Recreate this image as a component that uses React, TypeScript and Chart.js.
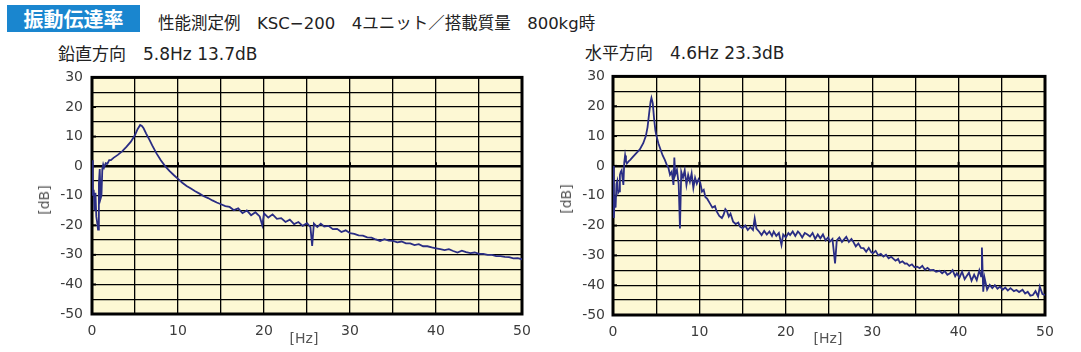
import React, { useEffect, useRef } from "react";
import { Chart, registerables } from "chart.js";

Chart.register(...registerables);

// ---- data: vertical direction (鉛直方向) ----
const vertHz = [
  0, 0.1, 0.2, 0.3, 0.4, 0.5, 0.6, 0.7, 0.8, 0.9,
  1.0, 1.1, 1.2, 1.3, 1.4, 1.6, 1.8, 2.0, 2.2, 2.5,
  3.0, 3.5, 4.0, 4.5, 5.0, 5.3, 5.6, 5.8, 6.0, 6.3,
  6.7, 7.0, 7.5, 8.0, 8.5, 9.0, 9.5, 10, 10.5, 11,
  11.5, 12, 12.5, 13, 13.5, 14, 14.5, 15, 15.5, 16,
  16.5, 17, 17.5, 18, 18.5, 19, 19.5, 19.8, 20, 20.5,
  21, 21.5, 22, 22.5, 23, 23.5, 24, 24.5, 25, 25.4,
  25.6, 25.8, 26.2, 26.6, 27, 27.5, 28, 28.5, 29, 29.5,
  30, 30.5, 31, 31.5, 32, 32.5, 33, 33.5, 34, 34.5,
  35, 35.5, 36, 36.5, 37, 37.5, 38, 38.5, 39, 39.5,
  40, 40.5, 41, 41.5, 42, 42.5, 43, 43.5, 44, 44.5,
  45, 45.5, 46, 46.5, 47, 47.5, 48, 48.5, 49, 49.5, 50,
];
const vertDb = [
  2, -10, -8, -15, -9, -17, -19, -21.5, -6, -1,
  -11, -10, -1, 0.5, -0.5, 1, 0.8, 2, 2, 2.8,
  3.8, 5, 6.5, 8.2, 10.5, 12.5, 13.9, 13.6, 12.8, 11,
  8.8, 7, 4.3, 2, 0, -1.6, -3, -4.3, -5.6, -6.7,
  -7.6, -8.5, -9.3, -10.2, -10.8, -11.6, -12.3, -12.9, -13.5, -13.8,
  -14.9, -14.3, -15.9, -15.0, -16.6, -15.6, -17.0, -20, -16.0, -17.4,
  -16.3, -17.8, -17.6, -18.9, -18.1, -19.6, -18.9, -20.2, -19.3, -20.6,
  -27, -19.4, -20.6, -19.5, -20.4, -20.2, -21.3, -21.2, -22.3, -21.7,
  -22.7, -22.9, -23.4, -23.5, -24.1, -24.2, -24.8, -25.3, -24.7, -25.2,
  -25.3, -25.8, -25.5, -26.1, -26.1, -26.7, -26.4, -27.1, -27.1, -27.5,
  -27.8, -28.1, -28.4, -28.1, -28.7, -29.2, -28.6, -29.1, -29.4, -29.2,
  -29.7, -29.7, -30.0, -30.0, -30.4, -30.4, -30.7, -30.8, -31.2, -31.1, -31.5,
];

// ---- data: horizontal direction (水平方向) ----
const horzHz = [
  0, 0.1, 0.2, 0.3, 0.4, 0.5, 0.6, 0.7, 0.8, 0.9,
  1.0, 1.1, 1.2, 1.3, 1.4, 1.5, 1.6, 1.8, 2.0, 2.3,
  2.7, 3.1, 3.5, 3.8, 4.0, 4.2, 4.35, 4.45, 4.6, 4.75,
  4.9, 5.0, 5.25, 5.5, 5.75, 6.0, 6.2, 6.4, 6.6, 6.8,
  7.0, 7.1, 7.2, 7.4, 7.6, 7.75, 7.9, 8.1, 8.3, 8.5,
  8.7, 8.9, 9.1, 9.3, 9.5, 9.7, 9.9, 10.1, 10.3, 10.5,
  10.7, 10.9, 11.2, 11.5, 11.8, 12.0, 12.3, 12.6, 12.8, 13.0,
  13.2, 13.4, 13.6, 13.9, 14.2, 14.5, 14.7, 15.0, 15.3, 15.6,
  15.9, 16.2, 16.4, 16.6, 16.9, 17.2, 17.5, 17.8, 18.1, 18.4,
  18.6, 18.9, 19.2, 19.5, 19.7, 20.0, 20.3, 20.5, 20.8, 21.1,
  21.4, 21.6, 21.9, 22.2, 22.5, 22.8, 23.1, 23.4, 23.7, 24.0,
  24.3, 24.6, 24.9, 25.1, 25.4, 25.7, 25.9, 26.2, 26.5, 26.7,
  27.0, 27.3, 27.6, 27.8, 28.1, 28.4, 28.7, 29.0, 29.3, 29.6,
  29.9, 30.1, 30.4, 30.7, 31.0, 31.3, 31.6, 31.9, 32.2, 32.4,
  32.7, 33.0, 33.2, 33.5, 33.8, 34.0, 34.3, 34.6, 34.9, 35.2,
  35.5, 35.8, 36.1, 36.4, 36.7, 37.1, 37.4, 37.8, 38.1, 38.4,
  38.7, 39.0, 39.3, 39.6, 39.8, 40.1, 40.4, 40.7, 40.9, 41.2,
  41.5, 41.8, 42.1, 42.4, 42.6, 42.7, 42.85, 43.0, 43.3, 43.6,
  43.9, 44.2, 44.5, 44.8, 45.1, 45.4, 45.7, 46.0, 46.4, 46.7,
  47.0, 47.4, 47.7, 48.0, 48.3, 48.6, 48.9, 49.2, 49.4, 49.7, 50.0,
];
const horzDb = [
  0, -17.5, -10, -14, -6, -5, -9, -8.5, -3, -2,
  -1.5, -4, -6.4, 1, 3.5, 1.5, 0.8, 1.5, 2, 3,
  4.3, 5.5, 7.6, 10, 13, 18, 21.5, 22.8, 21, 16,
  12, 10.4, 7.6, 5.5, 3.5, 2, 0.5, -0.5, -3, -2,
  -6.4, 2.8, -3, -1.3, -6, -21, -2, -4, -1.5, -6.4,
  -3, -5.3, -2.5, -7.4, -4, -6, -4.5, -5.7, -8.6, -8,
  -10.5, -11, -12.5, -14, -13.5, -15.3, -16.8, -17.5, -16.4, -14.5,
  -15.3, -17, -16, -18.7, -19.5, -19, -20.4, -20.9, -20, -21.5,
  -20.5, -21.5, -17.6, -21, -22, -23.2, -21.8, -23, -22, -23.5,
  -22, -23.5, -22.5, -26.5, -23, -24, -22.5, -23.2, -22, -23.5,
  -22, -22.6, -24, -22.5, -23, -23.7, -22.5, -24.5, -23, -24.3,
  -23, -25, -24, -25.4, -24.5, -32.7, -25, -24, -25.5, -24.8,
  -23.8, -25.5, -24.5, -25.4, -27, -26, -27.5, -27.6, -28.8, -27.5,
  -29, -29.3, -28.5, -30, -29.5, -30.4, -29.8, -31, -30.5, -31,
  -31.8, -31.2, -32.5, -32, -32.8, -32.7, -33.5, -33, -34, -33.8,
  -34.3, -33.5, -34.8, -34.2, -35, -34.9, -35.5, -35.2, -36, -35.3,
  -36.5, -36, -35, -37, -36, -37.5, -35.5, -38, -37.1, -35.8,
  -38.5, -36.5, -38.3, -35, -37, -27.4, -42.2, -37.5, -41.5, -39.9,
  -41, -40, -41.2, -40.5, -41.5, -40.8, -41.8, -41, -42, -41.6,
  -42.3, -41.5, -42.8, -42.2, -43.5, -43.3, -42, -43.8, -40.5, -43, -43.3,
];

// axis ranges / tick labels
const xMin = 0, xMax = 50, xGridStep = 5, xLabelStep = 10;
const yMin = -50, yMax = 30, yGridStep = 5, yLabelStep = 10;

const PLOT_BG = "#fdf8d4";
const LINE_COLOR = "#2a2d84";
const TICK_FONT = { family: "'DejaVu Sans', sans-serif", size: 14 };
const TICK_COLOR = "#3c3c3c";

const framePlugin = {
  id: "frame",
  beforeDraw(chart: any) {
    const { ctx, chartArea } = chart;
    const { left, top, right, bottom } = chartArea;
    ctx.save();
    ctx.fillStyle = PLOT_BG;
    ctx.fillRect(left, top, right - left, bottom - top);
    ctx.restore();
  },
  beforeDatasetsDraw(chart: any) {
    const { ctx, chartArea, scales } = chart;
    const { left, top, right, bottom } = chartArea;
    const xs = scales.x, ys = scales.y;
    ctx.save();
    ctx.strokeStyle = "#000";
    ctx.lineWidth = 2;
    for (let v = yMin + yLabelStep; v < yMax; v += yLabelStep) {
      const py = ys.getPixelForValue(v);
      ctx.beginPath();
      ctx.moveTo(left, py);
      ctx.lineTo(left + 4, py);
      ctx.stroke();
    }
    const zy = ys.getPixelForValue(0);
    for (let v = xMin + xLabelStep; v < xMax; v += xLabelStep) {
      const px = xs.getPixelForValue(v);
      ctx.beginPath();
      ctx.moveTo(px, zy);
      ctx.lineTo(px, zy - 4);
      ctx.stroke();
    }
    ctx.lineWidth = 3;
    ctx.strokeRect(left, top, right - left, bottom - top);
    ctx.restore();
  },
};

function buildChart(
  canvas: HTMLCanvasElement,
  hz: number[],
  db: number[],
  yWidth: number,
  xHeight: number,
  padRight: number,
  yPad: number
) {
  const points = hz.map((f, i) => ({ x: f, y: db[i] }));
  return new Chart(canvas, {
    type: "line",
    data: {
      datasets: [
        {
          data: points,
          borderColor: LINE_COLOR,
          borderWidth: 1.8,
          pointRadius: 0,
          tension: 0,
          fill: false,
        },
      ],
    },
    options: {
      responsive: false,
      animation: false,
      devicePixelRatio: 1,
      layout: { padding: { top: 0, right: padRight, left: 0, bottom: 0 } },
      plugins: { legend: { display: false }, tooltip: { enabled: false } },
      scales: {
        x: {
          type: "linear",
          min: xMin,
          max: xMax,
          afterFit: (s: any) => {
            s.height = xHeight;
          },
          border: { display: false },
          grid: { color: "#000", lineWidth: 1.3, drawTicks: false },
          ticks: {
            stepSize: xGridStep,
            autoSkip: false,
            maxRotation: 0,
            padding: 9,
            font: TICK_FONT,
            color: TICK_COLOR,
            callback: (v: any) => (Number(v) % xLabelStep === 0 ? String(v) : ""),
          },
        },
        y: {
          type: "linear",
          min: yMin,
          max: yMax,
          afterFit: (s: any) => {
            s.width = yWidth;
          },
          border: { display: false },
          grid: {
            color: "#000",
            lineWidth: (c: any) => (c.tick && c.tick.value === 0 ? 2.6 : 1.3),
            drawTicks: false,
          },
          ticks: {
            stepSize: yGridStep,
            autoSkip: false,
            padding: yPad,
            font: TICK_FONT,
            color: TICK_COLOR,
            callback: (v: any) => (Number(v) % yLabelStep === 0 ? String(v) : ""),
          },
        },
      },
    },
    plugins: [framePlugin],
  } as any);
}

const txtFont = "'DejaVu Sans', 'Noto Sans CJK JP', sans-serif";

function Label(props: { left: number; top: number; size: number; text: string }) {
  return (
    <div
      style={{
        position: "absolute",
        left: props.left,
        top: props.top,
        fontFamily: txtFont,
        fontSize: props.size,
        lineHeight: `${props.size}px`,
        whiteSpace: "pre",
        color: "#222",
      }}
    >
      {props.text}
    </div>
  );
}

function UnitLabel(props: { left: number; top: number; text: string; rotate?: boolean }) {
  return (
    <div
      style={{
        position: "absolute",
        left: props.left,
        top: props.top,
        fontFamily: "'DejaVu Sans', sans-serif",
        fontSize: 14,
        lineHeight: "14px",
        color: "#555",
        whiteSpace: "pre",
        transform: props.rotate ? "translate(-50%, -50%) rotate(-90deg)" : "translate(-50%, -50%)",
      }}
    >
      {props.text}
    </div>
  );
}

export default function App() {
  const leftRef = useRef<HTMLCanvasElement>(null);
  const rightRef = useRef<HTMLCanvasElement>(null);

  useEffect(() => {
    const c1 = buildChart(leftRef.current!, vertHz, vertDb, 92, 38, 18, 9);
    const c2 = buildChart(rightRef.current!, horzHz, horzDb, 73, 37, 36, 8);
    return () => {
      c1.destroy();
      c2.destroy();
    };
  }, []);

  return (
    <div
      style={{
        position: "absolute",
        left: 0,
        top: 0,
        width: 1081,
        height: 352,
        background: "#fff",
        overflow: "hidden",
      }}
    >
      <div
        style={{
          position: "absolute",
          left: 7,
          top: 5,
          width: 133,
          height: 27,
          background: "#1a86cf",
          color: "#fff",
          fontFamily: "'Noto Sans CJK JP', sans-serif",
          fontSize: 20,
          fontWeight: "bold",
          lineHeight: "27px",
          textAlign: "center",
        }}
      >
        振動伝達率
      </div>
      <Label left={158} top={16} size={16.5} text={"性能測定例　KSC−200　4ユニット／搭載質量　800kg時"} />
      <Label left={58} top={46} size={17} text={"鉛直方向　5.8Hz 13.7dB"} />
      <Label left={585} top={45} size={17} text={"水平方向　4.6Hz 23.3dB"} />

      <canvas
        ref={leftRef}
        width={540}
        height={292}
        style={{ position: "absolute", left: 0, top: 60, width: 540, height: 292 }}
      />
      <canvas
        ref={rightRef}
        width={541}
        height={292}
        style={{ position: "absolute", left: 540, top: 60, width: 541, height: 292 }}
      />
      <UnitLabel left={44} top={200} text="[dB]" rotate />
      <UnitLabel left={304} top={338} text="[Hz]" />
      <UnitLabel left={566} top={199} text="[dB]" rotate />
      <UnitLabel left={828} top={338} text="[Hz]" />
    </div>
  );
}
